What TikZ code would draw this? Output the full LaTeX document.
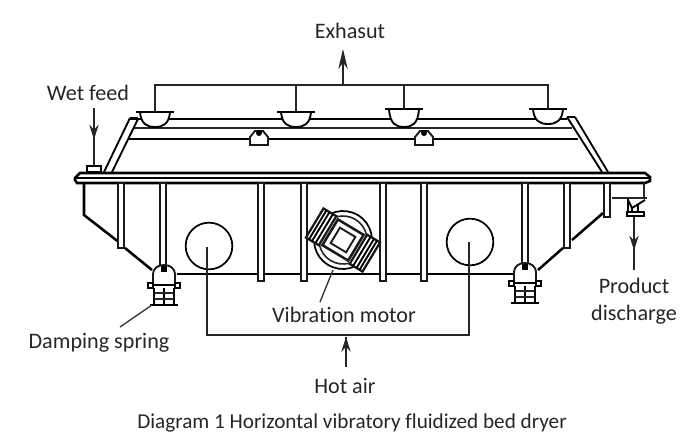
\documentclass[tikz,border=0pt]{standalone}
\usepackage{fontspec}
\setmainfont[Ligatures=CommonOff]{Carlito}
\usetikzlibrary{arrows.meta, decorations.markings}

\tikzset{
  label/.style={font=\fontsize{16.6}{20.25}\selectfont, text=black!85, align=center, inner sep=0pt},
  pipe/.style={draw=black!85, line width=1.2pt},
  heavy/.style={draw=black, line width=1.9pt},
  rib/.style={draw=black!90, line width=1.4pt, fill=white},
  tip/.style={-{Stealth[length=15pt, width=7pt]}, draw=black!85, line width=0.9pt},
  midtip/.style={draw=black!85, line width=0.9pt, postaction={decorate}, decoration={markings,
    mark=at position #1 with {\arrow{Stealth[length=11pt, width=7pt]}}}},
  leader/.style={draw=black!80, line width=1pt}
}

\begin{document}
\begin{tikzpicture}[x=0.75pt, y=-0.75pt]
\useasboundingbox (0,0) rectangle (680,440);

\node[label] (exhaust) at (350,31) {Exhasut};
\node[label] (wetfeed) at (88,93) {Wet feed};
\node[label] (product) at (634,301) {Product\\discharge};
\node[label] (motor) at (344,315) {Vibration motor};
\node[label] (spring) at (99,343) {Damping spring};
\node[label] (hotair) at (345,386) {Hot air};
\node[label, font=\fontsize{15.9}{20}\selectfont] (caption) at (352,423) {Diagram 1 Horizontal vibratory fluidized bed dryer};

% roof
\draw[heavy] (130,119) -- (567,119);
\draw[pipe] (133,128) -- (572,128);
\draw[heavy, line width=1.5pt] (128,139) -- (578,139);
\draw[heavy, line width=1.4pt] (130,118) -- (104,172);
\draw[heavy, line width=1.4pt] (138,119) -- (112,172);
\draw[heavy, line width=1.4pt] (575,117) -- (608,172);
\draw[heavy, line width=1.4pt] (567,117) -- (602,172);
\draw[heavy, line width=1.4pt] (130,118) -- (138,118) (567,117) -- (575,117);

% hoods
\foreach \n/\x/\y/\b in {1/155/112/127, 2/296/112/127, 3/404/109/127, 4/548/109/124} {
  \coordinate (hood\n) at (\x,\y);
  \draw[heavy, line width=1.4pt, fill=white] (\x-15,\y) .. controls (\x-14,\b-3) and (\x-8,\b) .. (\x,\b)
    .. controls (\x+8,\b) and (\x+14,\b-3) .. (\x+15,\y);
  \draw[heavy, line width=1.4pt] (\x-19,\y) -- (\x+19,\y);
}
\coordinate (headL) at (155,85);
\coordinate (headR) at (548,85);
\coordinate (headM) at (343,85);
\coordinate (outlet) at (343,49);
\draw[pipe] (hood1) -- (headL) -- (headR) -- (hood4);
\draw[pipe] (hood2) -- (hood2 |- headL);
\draw[pipe] (hood3) -- (hood3 |- headL);
\draw[tip] (headM) -- (outlet);

% brackets
\foreach \x in {259,424} {
  \draw[rib] (\x-9,145) -- (\x-9,137) -- (\x-4,131) -- (\x+4,131) -- (\x+9,137) -- (\x+9,145) -- cycle;
  \fill (\x,133) circle (3);
}

% deck
\draw[heavy, fill=white] (80,173) -- (645,173) -- (650,177) -- (650,181) -- (645,183) -- (77,183) -- (75,180) -- (75,178) -- cycle;
\draw[heavy, line width=1.4pt] (75,178) -- (650,178);

% wet feed
\node[draw=black, line width=1.2pt, fill=white, minimum width=10.5pt, minimum height=4.5pt, inner sep=0pt] (feedbox) at (94,169) {};
\coordinate (feedtop) at (94,108);
\draw[midtip=0.55] (feedtop) -- (feedbox.north);

% body
\draw[heavy] (84,183) -- (84,215) -- (120,243);
\draw[heavy] (125,248) -- (152,270);
\draw[heavy] (177,274) -- (513,274);
\draw[heavy] (538,270) -- (563,248);
\draw[heavy] (572,240) -- (603,213);

% ribs
\foreach \x/\yb in {121/248, 163/268, 261/281, 304/281, 383/281, 424/281, 525/266, 567/248, 607/217} {
  \draw[rib] (\x-3,183) rectangle (\x+3,\yb);
}

% air inlets
\node[draw=black, line width=1.3pt, circle, minimum size=35pt, inner sep=0pt] (inletL) at (209,246) {};
\node[draw=black, line width=1.3pt, circle, minimum size=35pt, inner sep=0pt] (inletR) at (470,242) {};
\coordinate (pipeL) at (207,247);
\coordinate (pipeR) at (469,242);
\coordinate (pipeBL) at (207,335);
\coordinate (pipeBR) at (469,335);
\coordinate (pipeM) at (346,337);
\coordinate (airfrom) at (346,367);
\draw[pipe] (pipeL) -- (pipeBL) -- (pipeBR) -- (pipeR);
\draw[midtip=1] (airfrom) -- (pipeM);

% dampers
\foreach \n/\x/\y in {L/164/265, R/525/263} {
  \coordinate (damper\n) at (\x,\y+40);
  \draw[rib] (\x-11,\y+18) -- (\x-11,\y+10) .. controls (\x-11,\y+3) and (\x-6,\y) .. (\x,\y)
    .. controls (\x+6,\y) and (\x+11,\y+3) .. (\x+11,\y+10) -- (\x+11,\y+18);
  \draw[heavy] (\x-16,\y+18) rectangle (\x-11,\y+23);
  \draw[heavy] (\x+11,\y+18) rectangle (\x+16,\y+23);
  \draw[heavy, line width=1.2pt] (\x-11,\y+20) -- (\x+11,\y+20);
  \foreach \dx in {-10,0,10} {
    \draw[heavy] (\x+\dx,\y+23) -- (\x+\dx,\y+40);
  }
  \foreach \yy in {28,34} {
    \draw[pipe, line width=0.8pt] (\x-10,\y+\yy) -- (\x+10,\y+\yy);
  }
  \draw[heavy] (\x-14,\y+40) -- (\x+14,\y+40);
  \fill (\x-3,\y+1) rectangle (\x+3,\y+7);
}

% motor
\begin{scope}[shift={(343,240)}, rotate=-31]
  \draw[heavy, line width=1.3pt] (0,0) circle (29);
  \draw[pipe] (0,0) circle (24);
  \draw[rib, line width=1.9pt] (-15,-15) rectangle (15,15);
  \draw[rib] (-9,-9) rectangle (9,9);
  \foreach \s in {-1,1} {
    \draw[rib, line width=1.7pt] (\s*18,-17) rectangle (\s*33,17);
    \foreach \d in {22,26,29.5} {
      \draw[heavy, line width=1.4pt] (\s*\d,-17) -- (\s*\d,17);
    }
  }
\end{scope}
\coordinate (motorfoot) at (333,270);
\coordinate (motorlead) at (320,302);
\draw[leader] (motorfoot) -- (motorlead);

% spring leader
\coordinate (springlead) at (120,327);
\coordinate (springfoot) at (152,305);
\draw[leader] (springlead) -- (springfoot);

% discharge
\draw[pipe, line width=1.4pt] (612,198) -- (647,198);
\draw[pipe, line width=1.4pt] (644,183) -- (644,198);
\draw[heavy, line width=1.4pt] (628,198) -- (628,212);
\draw[heavy, line width=1.4pt] (628,200) -- (632,208) -- (645,200);
\draw[heavy, line width=1.4pt] (632,208) -- (632,212) (638,204) -- (638,212);
\node[draw=black, line width=1.4pt, fill=white, minimum width=12.5pt, minimum height=3pt, inner sep=0pt] (valve) at (635.5,214) {};
\coordinate (dropend) at (634,270);
\draw[midtip=0.63] (valve.south -| dropend) -- (dropend);
\end{tikzpicture}
\end{document}
